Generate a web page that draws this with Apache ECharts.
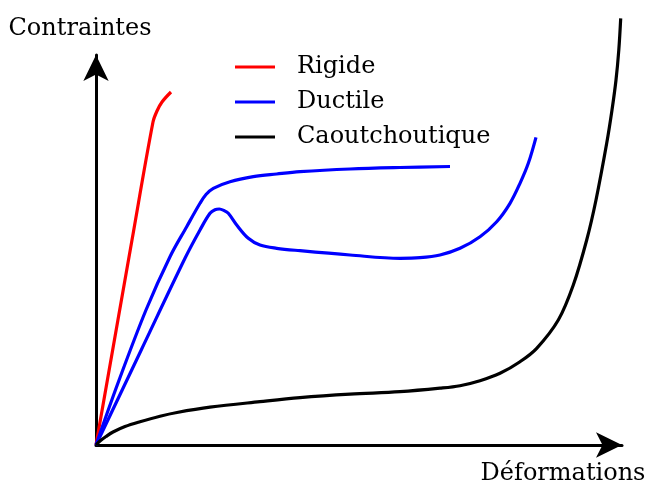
<!DOCTYPE html>
<html>
<head>
<meta charset="utf-8">
<script src="https://cdn.jsdelivr.net/npm/echarts@6/dist/echarts.min.js"></script>
<style>
    html, body { margin: 0; padding: 0; background: #fff; }
    #chart { width: 646px; height: 484px; }
</style>
</head>
<body>
<div id="chart"></div>
<script>
    // courbes, [déformation, contrainte] en unités arbitraires
    let rigide = [[0, 0], [36, 205], [57, 323], [61, 334], [66, 343], [75, 353]];
    let ductile = [[0, 0], [22, 62], [50, 135], [74, 188.3], [90.7, 218.3], [104, 241.7], [110, 250.5],
        [117.3, 256.7], [134, 263.3], [157.3, 268.3], [180.7, 271], [204, 273.3], [254, 276], [304, 277.5],
        [354, 278.5]];
    let ductilePic = [[0, 0], [45, 94.5], [89, 186.7], [104, 215], [114, 231.7], [119, 235.3], [123.3, 236],
        [128, 234.5], [132.3, 231.7], [140.7, 220], [152.3, 206.7], [164, 200], [180.7, 196.7], [204, 194.3],
        [254, 190], [304, 186.7], [324, 187.3], [344, 190], [364, 196.7], [384, 208.3], [400.7, 223.3],
        [414, 241.7], [424, 261.7], [432.3, 281.7], [440, 307.7]];
    let caoutchouc = [[0, 0], [4, 4], [10, 8.5], [17, 13], [29, 18.5], [44, 23.3], [64, 28.8], [81, 32.5],
        [114, 37.8], [164, 43.3], [204, 47.3], [254, 50.8], [304, 53.3], [344, 56.8], [364, 59.3], [384, 64.3],
        [404, 71.7], [424, 83.3], [440.7, 96.7], [462.3, 125], [477.3, 160], [490.7, 205], [500, 245],
        [510.7, 301.7], [516, 335], [520, 365], [522.8, 395], [524.7, 426.7]];

    let names = ['Rigide', 'Ductile', 'Caoutchoutique'];
    let font = 'DejaVu Serif';

    let chart = echarts.init(document.getElementById('chart'));

    function courbe(name, data, color) {
        return {
            name: name,
            type: 'line',
            data: data,
            smooth: 0.35,
            showSymbol: false,
            clip: false,
            color: color,
            lineStyle: { width: 3.2, color: color }
        };
    }

    let axe = {
        show: true,
        onZero: false,
        symbol: ['none', 'arrow'],
        symbolSize: [19, 26],
        lineStyle: { color: '#000', width: 3 }
    };

    let option = {
        animation: false,
        textStyle: { fontFamily: font },
        grid: { left: 96, right: 24, top: 55, bottom: 39 },
        legend: {
            orient: 'vertical',
            left: 230,
            top: 50,
            itemWidth: 40,
            itemHeight: 3,
            itemGap: 11,
            icon: 'rect',
            data: names,
            textStyle: { fontFamily: font, fontSize: 24, lineHeight: 24, color: '#000', padding: [0, 0, 0, 17] }
        },
        xAxis: {
            type: 'value', min: 0, max: 526,
            axisLine: axe,
            axisTick: { show: false }, axisLabel: { show: false }, splitLine: { show: false }
        },
        yAxis: {
            type: 'value', min: 0, max: 390,
            axisLine: axe,
            axisTick: { show: false }, axisLabel: { show: false }, splitLine: { show: false }
        },
        graphic: [
            { type: 'text', x: 80, y: 29, style: { text: 'Contraintes', font: '24px "DejaVu Serif"', fill: '#000', align: 'center', verticalAlign: 'middle' } },
            { type: 'text', x: 563, y: 474, style: { text: 'Déformations', font: '24px "DejaVu Serif"', fill: '#000', align: 'center', verticalAlign: 'middle' } }
        ],
        series: [
            courbe('Rigide', rigide, '#ff0000'),
            courbe('Ductile', ductile, '#0000ff'),
            courbe('Ductile', ductilePic, '#0000ff'),
            courbe('Caoutchoutique', caoutchouc, '#000000')
        ]
    };

    chart.setOption(option);
</script>
</body>
</html>
